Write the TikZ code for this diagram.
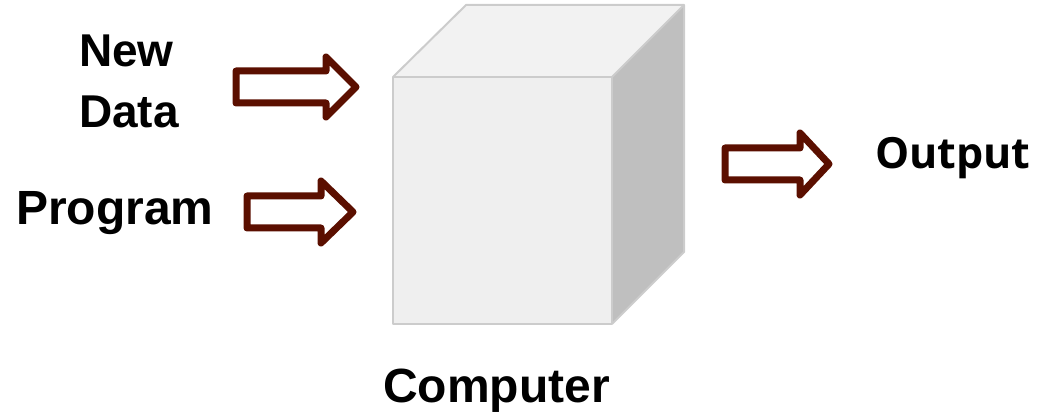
\documentclass[tikz,border=0pt]{standalone}
\usepackage{fontspec}
\setmainfont{Liberation Sans}
\newfontfamily\outfont{Open Sans}
\definecolor{arrowred}{RGB}{91,15,0}
\definecolor{cubeline}{RGB}{204,204,204}
\definecolor{cubefront}{RGB}{239,239,239}
\definecolor{cubetop}{RGB}{242,242,242}
\definecolor{cubeside}{RGB}{191,191,191}
\begin{document}
\begin{tikzpicture}[x=1pt,y=-1pt,
  lbl/.style={anchor=base west,inner sep=0pt,font=\fontsize{46}{54}\selectfont\bfseries},
  biglbl/.style={lbl,font=\fontsize{48}{56}\selectfont\bfseries},
  blockarrow/.style={draw=arrowred,line width=7pt,line join=round,fill=white},
  face/.style={draw=cubeline,line width=2pt,line join=round}]
\useasboundingbox (0,0) rectangle (1042,419);
% cube
\coordinate (fa) at (393,77);
\coordinate (fb) at (612,77);
\coordinate (fc) at (612,324);
\coordinate (fd) at (393,324);
\coordinate (ba) at (466,5);
\coordinate (bb) at (684,5);
\coordinate (bc) at (684,252);
\fill[cubefront] (fa) -- (fb) -- (fc) -- (fd) -- cycle;
\fill[cubetop] (fa) -- (ba) -- (bb) -- (fb) -- cycle;
\fill[cubeside] (fb) -- (bb) -- (bc) -- (fc) -- cycle;
\draw[face] (fa) -- (fb) -- (fc) -- (fd) -- cycle;
\draw[face] (fa) -- (ba) -- (bb) -- (fb);
\draw[face] (bb) -- (bc) -- (fc);
% labels
\node[lbl] (new) at (79,67) {New};
\node[lbl] (data) at (79,128) {Data};
\node[biglbl] (prog) at (16,225) {Program};
\node[lbl,font=\fontsize{43}{50}\selectfont\outfont\bfseries] (out) at (875,169) {Output};
\node[biglbl] (comp) at (383,403) {Computer};
% block arrows
\draw[blockarrow] (236,71) -- (326,71) -- (326,57) -- (356,87) -- (326,117) -- (326,103) -- (236,103) -- cycle;
\draw[blockarrow] (247,196) -- (321,196) -- (321,181) -- (353,212) -- (321,243) -- (321,228) -- (247,228) -- cycle;
\draw[blockarrow] (725,148) -- (800,148) -- (800,133) -- (829,164) -- (800,195) -- (800,180) -- (725,180) -- cycle;
\end{tikzpicture}
\end{document}
